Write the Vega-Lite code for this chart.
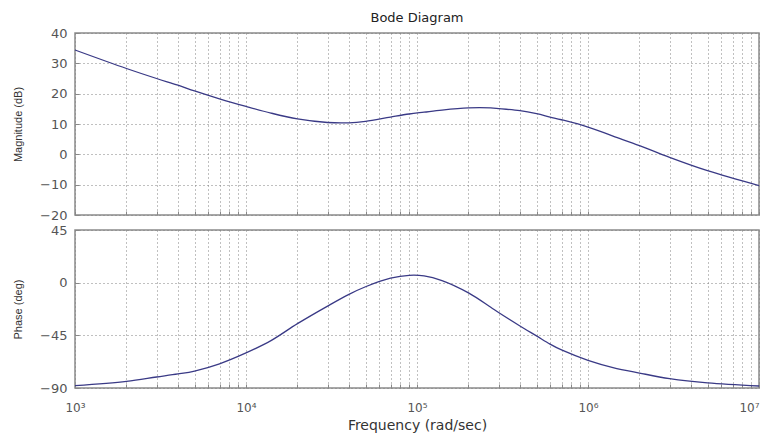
{
  "$schema": "https://vega.github.io/schema/vega-lite/v6.json",
  "background": "white",
  "padding": {"left": 11, "top": 11, "right": 3, "bottom": 0},
  "spacing": 15,
  "bounds": "flush",
  "config": {
    "font": "DejaVu Sans",
    "view": {"stroke": "#8a8a8a", "strokeWidth": 1.5},
    "axis": {
      "grid": true,
      "gridDash": [1, 3],
      "gridColor": "#808080",
      "gridWidth": 1,
      "domain": false,
      "tickSize": -4,
      "tickColor": "#888888",
      "labelColor": "#555555",
      "labelFont": "DejaVu Sans",
      "titleFontWeight": "normal",
      "titleColor": "#333333"
    }
  },
  "data": {
    "values": [
      {"freq": 1000, "mag": 34.4, "phase": -88.0},
      {"freq": 2000, "mag": 28.3, "phase": -84.3},
      {"freq": 3000, "mag": 25.0, "phase": -80.6},
      {"freq": 4000, "mag": 22.8, "phase": -78.0},
      {"freq": 5000, "mag": 20.9, "phase": -75.5},
      {"freq": 7000, "mag": 18.3, "phase": -69.3},
      {"freq": 10000, "mag": 15.8, "phase": -60.0},
      {"freq": 14000, "mag": 13.6, "phase": -49.5},
      {"freq": 20000, "mag": 11.7, "phase": -35.0},
      {"freq": 30000, "mag": 10.5, "phase": -20.0},
      {"freq": 40000, "mag": 10.4, "phase": -10.0},
      {"freq": 50000, "mag": 10.9, "phase": -3.5},
      {"freq": 70000, "mag": 12.3, "phase": 3.8},
      {"freq": 90000, "mag": 13.3, "phase": 6.3},
      {"freq": 110000, "mag": 13.9, "phase": 5.8},
      {"freq": 140000, "mag": 14.6, "phase": 1.8},
      {"freq": 200000, "mag": 15.3, "phase": -8.7},
      {"freq": 270000, "mag": 15.3, "phase": -21.0},
      {"freq": 300000, "mag": 15.1, "phase": -25.5},
      {"freq": 400000, "mag": 14.4, "phase": -37.0},
      {"freq": 500000, "mag": 13.4, "phase": -45.5},
      {"freq": 600000, "mag": 12.3, "phase": -52.5},
      {"freq": 700000, "mag": 11.4, "phase": -57.5},
      {"freq": 1000000, "mag": 9.0, "phase": -66.3},
      {"freq": 1400000, "mag": 6.0, "phase": -72.5},
      {"freq": 2000000, "mag": 2.9, "phase": -77.2},
      {"freq": 3000000, "mag": -1.0, "phase": -82.0},
      {"freq": 5000000, "mag": -5.4, "phase": -85.7},
      {"freq": 10000000, "mag": -10.3, "phase": -88.3}
    ]
  },
  "vconcat": [
    {
      "width": 684,
      "height": 182,
      "title": {"text": "Bode Diagram", "fontSize": 13, "fontWeight": "normal", "color": "#222222", "anchor": "middle", "offset": 2, "font": "DejaVu Sans"},
      "mark": {"type": "line", "color": "#3a3a86", "strokeWidth": 1.3, "interpolate": "catmull-rom"},
      "encoding": {
        "x": {
          "field": "freq", "type": "quantitative",
          "scale": {"type": "log", "domain": [1000, 10000000], "nice": false},
          "axis": {
            "values": [1000, 2000, 3000, 4000, 5000, 6000, 7000, 8000, 9000, 10000, 20000, 30000, 40000, 50000, 60000, 70000, 80000, 90000, 100000, 200000, 300000, 400000, 500000, 600000, 700000, 800000, 900000, 1000000, 2000000, 3000000, 4000000, 5000000, 6000000, 7000000, 8000000, 9000000, 10000000],
            "labels": false, "title": null, "minExtent": 0, "maxExtent": 0
          }
        },
        "y": {
          "field": "mag", "type": "quantitative",
          "scale": {"domain": [-20, 40], "nice": false},
          "axis": {"values": [-20, -10, 0, 10, 20, 30, 40], "title": "Magnitude (dB)", "titleFont": "Liberation Sans", "labelFontSize": 13, "labelPadding": 12, "titleFontSize": 11, "titlePadding": 16}
        }
      }
    },
    {
      "width": 684,
      "height": 158,
      "mark": {"type": "line", "color": "#3a3a86", "strokeWidth": 1.3, "interpolate": "catmull-rom"},
      "encoding": {
        "x": {
          "field": "freq", "type": "quantitative",
          "scale": {"type": "log", "domain": [1000, 10000000], "nice": false},
          "axis": {
            "values": [1000, 2000, 3000, 4000, 5000, 6000, 7000, 8000, 9000, 10000, 20000, 30000, 40000, 50000, 60000, 70000, 80000, 90000, 100000, 200000, 300000, 400000, 500000, 600000, 700000, 800000, 900000, 1000000, 2000000, 3000000, 4000000, 5000000, 6000000, 7000000, 8000000, 9000000, 10000000],
            "labelExpr": "datum.value == 1000 ? '10³' : datum.value == 10000 ? '10⁴' : datum.value == 100000 ? '10⁵' : datum.value == 1000000 ? '10⁶' : datum.value == 10000000 ? '10⁷' : ''",
            "labelAlign": {"condition": {"test": "datum.value == 10000000", "value": "right"}, "value": "center"},
            "labelFontSize": 12, "labelPadding": 18, "labelFlush": false, "labelOverlap": false,
            "title": "Frequency  (rad/sec)", "titleFont": "DejaVu Sans", "titleFontSize": 14, "titlePadding": 5
          }
        },
        "y": {
          "field": "phase", "type": "quantitative",
          "scale": {"domain": [-90, 45], "nice": false},
          "axis": {"values": [-90, -45, 0, 45], "title": "Phase (deg)", "titleFont": "Liberation Sans", "labelFontSize": 13, "labelPadding": 12, "titleFontSize": 11, "titlePadding": 16}
        }
      }
    }
  ]
}
